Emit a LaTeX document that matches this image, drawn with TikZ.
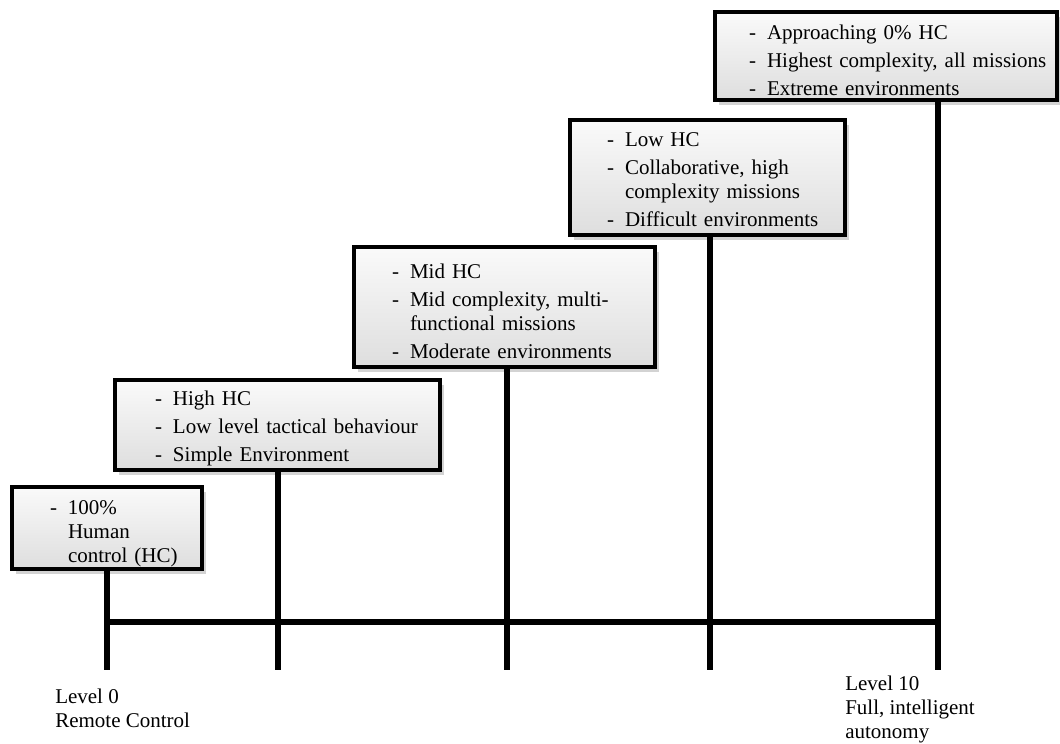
\documentclass[tikz,border=0pt]{standalone}
\usepackage{fontspec}
\setmainfont{Liberation Serif}
\usetikzlibrary{shadows}

\newcommand{\stagefont}{\fontsize{15.75pt}{18pt}\selectfont}
\newcommand{\hcitem}[1]{\hangindent=13.5pt\hangafter=1\makebox[13.5pt][l]{-}#1\par}

\tikzset{
  stage/.style={draw, line width=2.6pt, top color=black!2, bottom color=black!13,
    drop shadow={shadow xshift=3pt, shadow yshift=-3.5pt, opacity=0.35},
    inner sep=0pt, align=left, font=\stagefont, text height=16.7pt,
    execute at begin node={\leftskip=#1\parskip=3pt}},
  rung/.style={line width=4.8pt},
  level/.style={anchor=north west, inner sep=0pt, align=left, font=\stagefont}
}

\begin{document}
\begin{tikzpicture}[x=0.75pt,y=-0.75pt]
  \useasboundingbox (0,0) rectangle (1060,743);

  % the five stages
  \node[stage=24pt, minimum width=142.5pt, minimum height=61.5pt, text width=133.5pt, text height=19.7pt]
    (stage0) at (107,528) {\hcitem{100\%\newline Human\newline control (HC)}};
  \node[stage=25.5pt, minimum width=243.75pt, minimum height=67.5pt, text width=234.75pt]
    (stage1) at (277.5,425) {\hcitem{High HC}\hcitem{Low level tactical behaviour}\hcitem{Simple Environment}};
  \node[stage=24pt, minimum width=225.75pt, minimum height=90pt, text width=216.75pt]
    (stage2) at (504.5,307) {\hcitem{Mid HC}\hcitem{Mid complexity, multi-\newline functional missions}\hcitem{Moderate environments}};
  \node[stage=23.25pt, minimum width=206.25pt, minimum height=86.25pt, text width=197.25pt, text height=13.7pt]
    (stage3) at (707.5,177.5) {\hcitem{Low HC}\hcitem{Collaborative, high\newline complexity missions}\hcitem{Difficult environments}};
  \node[stage=21pt, minimum width=256.5pt, minimum height=66pt, text width=247.5pt]
    (stage4) at (886,56) {\hcitem{Approaching 0\% HC}\hcitem{Highest complexity, all missions}\hcitem{Extreme environments}};

  % ticks and scale bar
  \coordinate (foot0) at (107,670);
  \coordinate (foot1) at (278,670);
  \coordinate (foot2) at (507,670);
  \coordinate (foot3) at (710,670);
  \coordinate (foot4) at (938,670);
  \coordinate (hub0) at (107,622);
  \coordinate (hub4) at (938,622);
  \foreach \i in {0,...,4}
    \draw[rung] (stage\i.south -| foot\i) -- (foot\i);
  \draw[rung] (hub0) -- (hub4);

  % end labels
  \node[level] (lvl0) at (55,689) {Level 0\\Remote Control};
  \node[level] (lvl10) at (845,676) {Level 10\\Full, intelligent\\autonomy};
\end{tikzpicture}
\end{document}
